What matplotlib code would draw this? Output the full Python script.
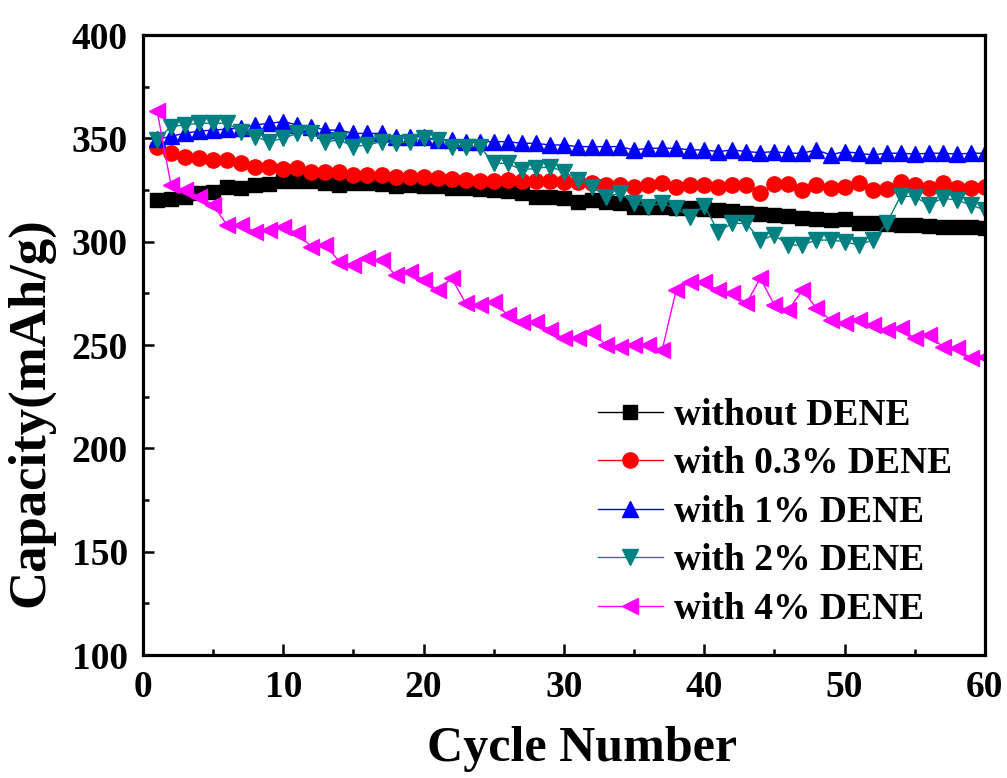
import matplotlib
matplotlib.use("Agg")
import matplotlib.pyplot as plt
from matplotlib.ticker import MultipleLocator
import numpy as np

plt.rcParams['font.family'] = ['Liberation Serif', 'DejaVu Serif']
plt.rcParams['font.weight'] = 'bold'

### DATA =====================================================================
cycles = np.arange(1, 61)

without_dene = [320.2, 320.9, 321.8, 323.4, 324.2, 326.3, 325.8, 327.4, 327.9, 329.5,
                329.5, 329.2, 328.5, 327.4, 328.2, 328.2, 327.9, 327.0, 327.4, 327.0,
                326.8, 325.8, 325.8, 325.3, 325.0, 324.7, 323.4, 321.8, 321.5, 321.0,
                319.4, 320.2, 319.4, 318.6, 317.0, 317.0, 317.0, 316.2, 316.2, 316.0,
                315.5, 315.0, 314.0, 313.4, 312.9, 312.4, 311.3, 310.8, 310.5, 310.8,
                309.2, 309.2, 308.6, 308.1, 308.1, 307.6, 307.3, 307.0, 307.0, 306.5]

with_03 = [346.0, 342.8, 341.1, 340.3, 339.5, 339.5, 337.9, 336.3, 336.3, 335.2,
           335.5, 333.9, 333.9, 333.9, 332.3, 332.3, 332.3, 331.1, 331.1, 331.1,
           330.7, 330.2, 329.9, 329.5, 329.5, 329.9, 329.5, 329.5, 329.5, 329.0,
           329.0, 328.2, 327.4, 327.4, 326.6, 327.4, 328.6, 326.6, 327.4, 327.4,
           326.6, 327.4, 327.4, 323.7, 327.9, 327.9, 325.0, 327.4, 325.8, 326.6,
           328.2, 325.0, 325.3, 329.1, 327.4, 325.8, 328.6, 325.8, 325.8, 326.3]

with_1 = [349.5, 351.0, 352.5, 353.5, 354.0, 354.5, 355.0, 356.5, 357.3, 358.1,
          356.5, 355.7, 354.0, 354.0, 352.4, 352.4, 352.4, 350.8, 350.8, 350.8,
          349.2, 349.2, 348.4, 348.4, 348.4, 348.4, 347.6, 347.6, 346.8, 346.8,
          346.0, 346.0, 346.0, 346.0, 344.4, 345.2, 345.2, 345.2, 344.4, 344.4,
          343.6, 344.4, 343.6, 343.1, 343.6, 342.8, 342.8, 344.4, 342.0, 343.6,
          342.8, 342.0, 342.8, 342.8, 342.4, 342.8, 342.8, 342.4, 342.8, 342.8]

with_2 = [349.2, 355.7, 356.5, 357.3, 357.3, 357.3, 353.2, 350.8, 348.4, 350.0,
          352.4, 352.4, 348.4, 349.2, 346.0, 346.8, 348.4, 347.6, 348.4, 350.0,
          349.2, 346.0, 346.0, 346.0, 337.9, 337.9, 334.7, 335.5, 336.3, 333.9,
          329.9, 326.6, 321.8, 323.4, 318.6, 317.0, 318.6, 316.1, 312.1, 317.4,
          304.9, 308.9, 308.9, 300.8, 303.2, 298.4, 298.4, 300.8, 300.8, 300.0,
          298.4, 300.8, 308.9, 322.1, 321.8, 317.8, 321.0, 320.2, 317.8, 315.3]

with_4 = [363.4, 327.4, 325.0, 321.8, 317.8, 308.0, 308.0, 304.8, 305.5, 307.3,
          304.0, 297.6, 298.4, 290.3, 288.7, 292.0, 291.0, 283.9, 285.5, 281.5,
          276.6, 282.3, 270.2, 269.4, 271.0, 264.5, 261.3, 261.3, 257.3, 253.2,
          253.2, 256.5, 250.0, 249.2, 250.0, 250.0, 247.6, 276.6, 280.7, 280.3,
          276.6, 275.0, 270.2, 282.3, 269.4, 266.9, 276.6, 267.8, 262.1, 260.5,
          262.1, 259.7, 257.3, 258.1, 253.2, 254.9, 249.2, 248.4, 243.6, 244.4]

labels = ['without DENE', 'with 0.3% DENE', 'with 1% DENE', 'with 2% DENE', 'with 4% DENE']

### PLOT =====================================================================
fig = plt.figure(figsize=(10.07, 7.78), dpi=100)
ax = fig.add_axes([0.142, 0.158, 0.836, 0.797])

ax.plot(cycles, without_dene, color='black', marker='s', ms=10, lw=1, label=labels[0])
ax.plot(cycles, with_03, color='red', marker='o', ms=11, lw=1, label=labels[1])
ax.plot(cycles, with_1, color='blue', marker='^', ms=11.5, lw=1, label=labels[2])
ax.plot(cycles, with_2, color='#008080', marker='v', ms=11.5, lw=1, label=labels[3])
ax.plot(cycles, with_4, color='magenta', marker='<', ms=11.5, lw=1, label=labels[4])

ax.set_xlim(0, 60)
ax.set_ylim(100, 400)
ax.xaxis.set_major_locator(MultipleLocator(10))
ax.xaxis.set_minor_locator(MultipleLocator(5))
ax.yaxis.set_major_locator(MultipleLocator(50))
ax.yaxis.set_minor_locator(MultipleLocator(25))

for sp in ax.spines.values():
    sp.set_linewidth(2.3)
ax.tick_params(which='both', direction='in', top=False, right=False, labelsize=27, width=1.8)
ax.tick_params(which='major', length=8, pad=11)
ax.tick_params(which='minor', length=4)

ax.set_xlabel('Cycle Number', fontsize=36, fontweight='bold')
ax.set_ylabel('Capacity(mAh/g)', fontsize=38, fontweight='bold')
ax.xaxis.set_label_coords(0.521, -0.115)
ax.yaxis.set_label_coords(-0.105, 0.392)

ax.legend(loc='upper left', bbox_to_anchor=(0.54, 0.415), frameon=False,
          fontsize=27, handlelength=1.75, handletextpad=0.3, labelspacing=0.36,
          borderpad=0, borderaxespad=0)

fig.savefig('out.png', dpi=100)
